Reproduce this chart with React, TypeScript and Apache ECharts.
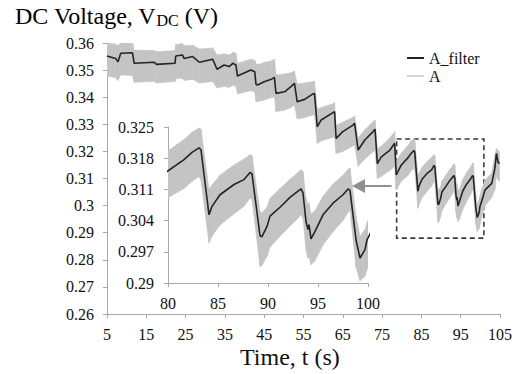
import React, { useEffect, useRef } from "react";
import * as echarts from "echarts";

// Sample times (s)
const time = [
  5.0, 7.2, 7.8, 8.5, 11.5, 11.9, 17.0, 17.6, 22.3, 22.5, 24.2, 24.6, 26.8, 28.5, 31.9, 33.0,
  34.8, 36.1, 37.0, 37.8, 38.2, 41.6, 42.6, 42.9, 43.3, 45.0, 46.8, 47.6, 48.0, 50.2, 51.8, 52.7,
  53.4, 55.3, 57.4, 57.8, 58.5, 59.5, 62.5, 62.9, 63.3, 65.0, 67.6, 68.0, 68.9, 70.6, 72.7, 73.2,
  73.8, 74.8, 77.0, 78.2, 78.6, 79.9, 81.6, 82.4, 83.1, 83.3, 84.1, 84.4, 85.2, 86.6, 87.6, 88.2,
  88.4, 89.2, 89.4, 89.9, 90.2, 91.2, 92.2, 93.0, 93.3, 93.5, 93.8, 94.0, 94.1, 94.3, 94.7, 95.5,
  96.5, 97.5, 98.0, 98.2, 98.8, 99.2, 99.7, 99.9, 100.3, 101.2, 102.9, 103.7, 104.1, 104.5, 104.9,
];

// Filtered voltage A_filter (V)
const aFilter = [
  0.3552, 0.3543, 0.3531, 0.3562, 0.3564, 0.3525, 0.3529, 0.3521, 0.3525, 0.3552, 0.3556, 0.3543, 0.355, 0.3529, 0.354, 0.3503,
  0.3519, 0.3513, 0.3525, 0.3519, 0.3478, 0.35, 0.3494, 0.3448, 0.3445, 0.3457, 0.3466, 0.3473, 0.3414, 0.342, 0.3439, 0.3451,
  0.3383, 0.3392, 0.3412, 0.3414, 0.3291, 0.3316, 0.3343, 0.3347, 0.3248, 0.3273, 0.3297, 0.3304, 0.3205, 0.3242, 0.3273, 0.3282,
  0.3155, 0.318, 0.3205, 0.323, 0.3113, 0.315, 0.3177, 0.3193, 0.3203, 0.3199, 0.3053, 0.3072, 0.3098, 0.3121, 0.3132, 0.3148,
  0.3145, 0.3006, 0.3004, 0.3027, 0.305, 0.307, 0.3092, 0.3106, 0.3111, 0.3102, 0.3038, 0.302, 0.3031, 0.2999, 0.3016, 0.3053,
  0.3079, 0.3098, 0.3111, 0.3108, 0.2997, 0.2956, 0.2975, 0.2997, 0.3014, 0.3058, 0.3082, 0.3138, 0.3193, 0.316, 0.3155,
];

// Raw signal A: upper and lower ripple envelope (V)
const aUpper = [
  0.36, 0.3596, 0.359, 0.3603, 0.3605, 0.3574, 0.3572, 0.3568, 0.3572, 0.3594, 0.3598, 0.359, 0.3592, 0.3578, 0.3582, 0.3556,
  0.356, 0.3556, 0.3566, 0.3562, 0.3525, 0.354, 0.3536, 0.3524, 0.352, 0.3528, 0.3534, 0.354, 0.3482, 0.3486, 0.349, 0.3496,
  0.345, 0.3452, 0.3458, 0.346, 0.3355, 0.3362, 0.3376, 0.338, 0.3296, 0.3308, 0.3326, 0.333, 0.325, 0.328, 0.331, 0.3315,
  0.321, 0.322, 0.325, 0.3273, 0.3165, 0.3195, 0.3222, 0.3238, 0.3248, 0.3245, 0.311, 0.312, 0.3142, 0.3165, 0.3178, 0.3188,
  0.3186, 0.306, 0.3058, 0.307, 0.309, 0.3112, 0.3133, 0.3148, 0.3154, 0.315, 0.309, 0.3075, 0.308, 0.3055, 0.3062, 0.3095,
  0.3122, 0.3142, 0.3155, 0.3158, 0.305, 0.3005, 0.302, 0.3035, 0.306, 0.3095, 0.312, 0.3185, 0.321, 0.3205, 0.3195,
];
const aLower = [
  0.3478, 0.3472, 0.3462, 0.3482, 0.348, 0.3455, 0.3458, 0.3452, 0.3458, 0.3468, 0.347, 0.3462, 0.3466, 0.3452, 0.3458, 0.3434,
  0.344, 0.3436, 0.3444, 0.344, 0.3412, 0.3424, 0.342, 0.3385, 0.3383, 0.339, 0.3398, 0.3402, 0.3347, 0.3352, 0.3362, 0.3371,
  0.332, 0.3325, 0.3334, 0.3336, 0.3229, 0.3238, 0.3252, 0.3256, 0.3192, 0.32, 0.322, 0.3225, 0.3145, 0.3172, 0.3198, 0.3205,
  0.31, 0.3108, 0.313, 0.3144, 0.3058, 0.309, 0.3112, 0.3128, 0.3139, 0.313, 0.299, 0.3005, 0.303, 0.3055, 0.3072, 0.309,
  0.3088, 0.2937, 0.294, 0.296, 0.298, 0.3005, 0.3028, 0.3045, 0.3053, 0.3045, 0.2975, 0.2955, 0.296, 0.2941, 0.295, 0.2985,
  0.3015, 0.304, 0.3058, 0.3064, 0.2935, 0.2905, 0.2915, 0.293, 0.2955, 0.3, 0.303, 0.306, 0.311, 0.3095, 0.309,
];

// Axis ticks
const mainTimeTicks = [5, 15, 25, 35, 45, 55, 65, 75, 85, 95, 105];
const mainVoltTicks = [0.26, 0.27, 0.28, 0.29, 0.3, 0.31, 0.32, 0.33, 0.34, 0.35, 0.36];
const insetTimeTicks = [80, 85, 90, 95, 100];
const insetVoltTicks = [0.29, 0.297, 0.304, 0.311, 0.318, 0.325];

// Zoomed region marked on the main plot, and the pointer toward the inset
const zoomRegion = { t0: 78.7, t1: 100.9, v0: 0.288, v1: 0.3246 };
const pointer = { t0: 77.4, t1: 69.0, v: 0.3072 };

const FONT = "Liberation Serif";
const AXIS_GRAY = "#a9a9a9";
const BAND_GRAY = "#c4c4c4";
const LINE_BLACK = "#242424";

const serifText = (size: number) => ({ fontFamily: FONT, fontSize: size, color: "#111" });
const fmt = (v: number) => "{t|" + String(+Number(v).toFixed(4)) + "}";

function axisCommon(ticks: number[], fontSize: number, margin: number) {
  return {
    type: "value" as const,
    axisLine: { show: true, lineStyle: { color: AXIS_GRAY, width: 1 } },
    axisTick: { show: true, length: 4, customValues: ticks, lineStyle: { color: AXIS_GRAY } },
    axisLabel: {
      customValues: ticks,
      formatter: fmt,
      ...serifText(fontSize),
      rich: { t: serifText(fontSize) },
      margin,
    },
    splitLine: { show: false },
  };
}

// Ripple band of the raw signal: one quad per sample interval, between lower and upper envelope
function bandSeries(grid: number) {
  return {
    name: "A",
    type: "custom",
    xAxisIndex: grid,
    yAxisIndex: grid,
    clip: true,
    silent: true,
    z: 1,
    data: time.map((t, i) => [t, aLower[i], aUpper[i]]),
    encode: { x: 0, y: [1, 2] },
    renderItem: (params: any, api: any) => {
      const i = params.dataIndex;
      if (i >= time.length - 1) return null;
      const a = api.coord([time[i], aLower[i]]);
      const b = api.coord([time[i], aUpper[i]]);
      const c = api.coord([time[i + 1], aUpper[i + 1]]);
      const d = api.coord([time[i + 1], aLower[i + 1]]);
      return {
        type: "polygon",
        shape: { points: [a, b, c, d] },
        style: { fill: BAND_GRAY, stroke: BAND_GRAY, lineWidth: 0.6 },
      };
    },
  };
}

function filterSeries(grid: number, withMarks: boolean) {
  const s: any = {
    name: "A_filter",
    type: "line",
    xAxisIndex: grid,
    yAxisIndex: grid,
    data: time.map((t, i) => [t, aFilter[i]]),
    symbol: "none",
    lineStyle: { color: LINE_BLACK, width: 1.6 },
    itemStyle: { color: LINE_BLACK },
    z: 3,
  };
  if (withMarks) {
    s.markArea = {
      silent: true,
      label: { show: false },
      itemStyle: {
        color: "rgba(0,0,0,0)",
        borderColor: "#3a3a3a",
        borderWidth: 1.6,
        borderType: [5, 3.5],
      },
      data: [[
        { xAxis: zoomRegion.t0, yAxis: zoomRegion.v1 },
        { xAxis: zoomRegion.t1, yAxis: zoomRegion.v0 },
      ]],
    };
    s.markLine = {
      silent: true,
      symbol: ["none", "triangle"],
      symbolSize: [14, 13],
      label: { show: false },
      lineStyle: { color: "#8f8f8f", width: 2.2, type: "solid" },
      data: [[
        { coord: [pointer.t0, pointer.v] },
        { coord: [pointer.t1, pointer.v] },
      ]],
    };
  }
  return s;
}

export default function App() {
  const ref = useRef<HTMLDivElement>(null);

  useEffect(() => {
    if (!ref.current) return;
    const chart = echarts.init(ref.current, undefined, { renderer: "svg" });
    chart.setOption({
      animation: false,
      backgroundColor: "#ffffff",
      textStyle: { fontFamily: FONT },
      grid: [
        { left: 107, right: 16, top: 43, bottom: 60 },
        { left: 168, right: 148, top: 127, bottom: 91 },
      ],
      xAxis: [
        { ...axisCommon(mainTimeTicks, 16, 12), gridIndex: 0, min: 5, max: 105 },
        { ...axisCommon(insetTimeTicks, 16, 12), gridIndex: 1, min: 80, max: 100 },
      ],
      yAxis: [
        { ...axisCommon(mainVoltTicks, 16, 13), gridIndex: 0, min: 0.26, max: 0.36 },
        { ...axisCommon(insetVoltTicks, 16, 14), gridIndex: 1, min: 0.29, max: 0.325 },
      ],
      legend: {
        orient: "vertical",
        left: 402,
        top: 45,
        itemWidth: 17,
        itemHeight: 2,
        itemGap: 2,
        icon: "rect",
        selectedMode: false,
        formatter: (name: string) => "{t|" + name + "}",
        textStyle: { ...serifText(16), lineHeight: 16, rich: { t: { ...serifText(16), lineHeight: 16 } } },
        data: [
          { name: "A_filter", itemStyle: { color: LINE_BLACK } },
          { name: "A", itemStyle: { color: "#d6d6d6" } },
        ],
      },
      graphic: [
        {
          type: "text",
          left: 15,
          top: 4,
          style: {
            text: "{a|DC Voltage, V}{b|DC}{a| (V)}",
            rich: {
              a: { fontFamily: FONT, fontSize: 24, color: "#111", verticalAlign: "bottom", lineHeight: 26 },
              b: { fontFamily: FONT, fontSize: 16, color: "#111", verticalAlign: "bottom", lineHeight: 22 },
            },
          },
        },
        {
          type: "text",
          left: 240,
          top: 345,
          style: { text: "Time, t (s)", fontFamily: FONT, fontSize: 24, fill: "#111" },
        },
      ],
      series: [bandSeries(0), filterSeries(0, true), bandSeries(1), filterSeries(1, false)],
    });
    return () => chart.dispose();
  }, []);

  return <div ref={ref} style={{ width: 516, height: 374, position: "absolute", left: 0, top: 0 }} />;
}
